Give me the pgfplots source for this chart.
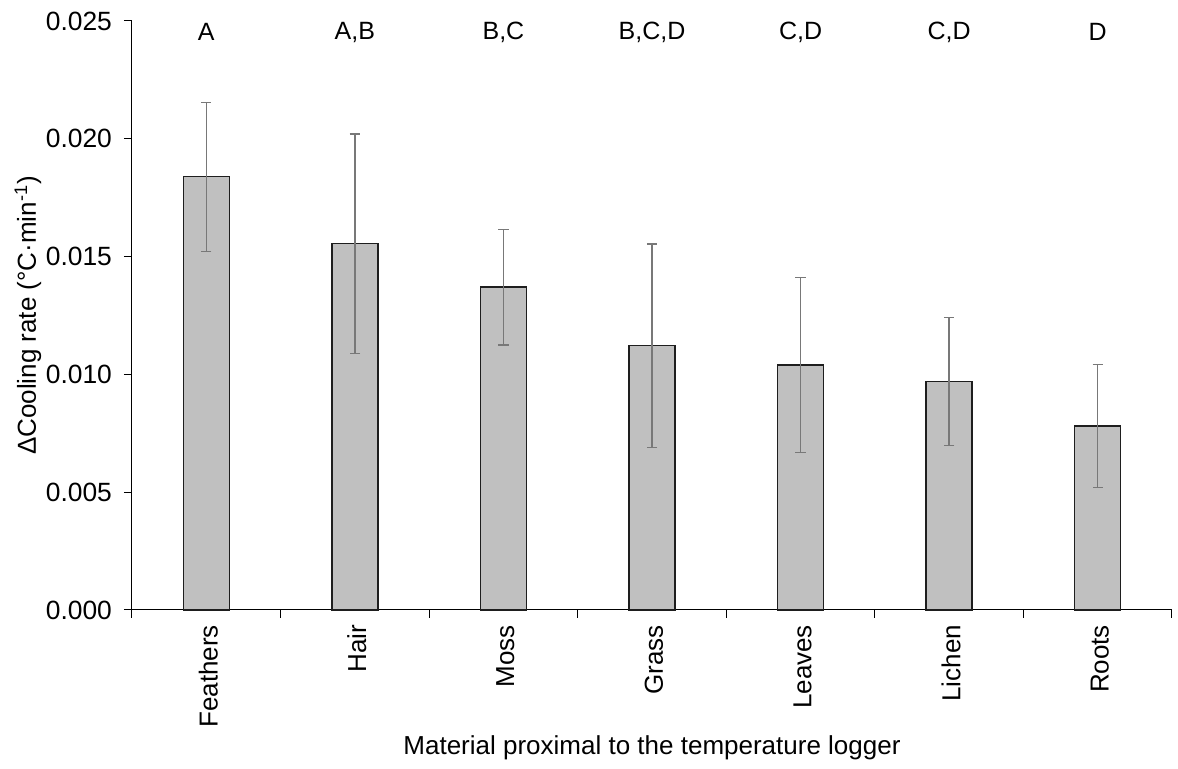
\documentclass[border=0pt]{standalone}
\usepackage{fontspec}
\setmainfont{Liberation Sans}
\usepackage{pgfplots}
\usepackage{pgfplotstable}
\pgfplotsset{compat=1.18}
\definecolor{barfill}{RGB}{192,192,192}
\definecolor{bardraw}{RGB}{30,30,30}
\definecolor{errcol}{RGB}{120,120,120}
\pgfplotstableread{
x y err
0 0.01839 0.00316
1 0.01555 0.00465
2 0.01370 0.00245
3 0.01122 0.00432
4 0.01039 0.00372
5 0.00969 0.00272
6 0.00780 0.00261
}\datatable
\begin{document}
\begin{tikzpicture}
\useasboundingbox (-66pt,-79.5pt) rectangle (523pt,305pt);
\begin{axis}[
  at={(0,0)}, anchor=south west,
  scale only axis,
  width=520pt, height=294.5pt,
  xmin=-0.5, xmax=6.5,
  ymin=0, ymax=0.025,
  axis x line*=bottom,
  axis y line*=left,
  axis line style={line width=0.5pt, black},
  font=\fontsize{13}{15}\selectfont,
  xtick={0,1,2,3,4,5,6},
  xticklabels={Feathers,Hair,Moss,Grass,Leaves,Lichen,Roots},
  major x tick style={draw=none},
  minor xtick={-0.5,0.5,1.5,2.5,3.5,4.5,5.5,6.5},
  minor tick length=4pt,
  minor x tick style={line width=0.5pt, black},
  xticklabel style={rotate=90, anchor=east, font=\fontsize{13}{15}\selectfont, yshift=-1pt},
  ytick={0,0.005,0.010,0.015,0.020,0.025},
  scaled y ticks=false,
  yticklabel style={/pgf/number format/fixed, /pgf/number format/precision=3, /pgf/number format/zerofill, /pgf/number format/assume math mode=true, font=\fontsize{13.2}{15}\selectfont, xshift=-2.5pt},
  major tick length=4pt,
  tick align=outside,
  major y tick style={line width=0.5pt, black},
  every axis y label/.style={at={(axis description cs:-0.1,0.5)}, rotate=90, anchor=center},
  every axis x label/.style={at={(axis description cs:0.5,-0.234)}, anchor=center},
  ylabel={ΔCooling rate (°C·min\textsuperscript{-1})},
  xlabel={Material proximal to the temperature logger},
  clip=false,
]
\addplot[ybar, bar width=23pt, fill=barfill, draw=bardraw, line width=0.75pt,
  error bars/.cd, y dir=both, y explicit,
  error bar style={line width=0.65pt, errcol},
  error mark options={rotate=90, mark size=2.6pt, line width=0.65pt, errcol}]
  table[x=x, y=y, y error=err] {\datatable};
\node[font=\fontsize{12.5}{14}\selectfont] at (axis cs:0,0.02453) {A};
\node[font=\fontsize{12.5}{14}\selectfont] at (axis cs:1,0.02453) {A,B};
\node[font=\fontsize{12.5}{14}\selectfont] at (axis cs:2,0.02453) {B,C};
\node[font=\fontsize{12.5}{14}\selectfont] at (axis cs:3,0.02453) {B,C,D};
\node[font=\fontsize{12.5}{14}\selectfont] at (axis cs:4,0.02453) {C,D};
\node[font=\fontsize{12.5}{14}\selectfont] at (axis cs:5,0.02453) {C,D};
\node[font=\fontsize{12.5}{14}\selectfont] at (axis cs:6,0.02453) {D};
\end{axis}
\end{tikzpicture}
\end{document}
